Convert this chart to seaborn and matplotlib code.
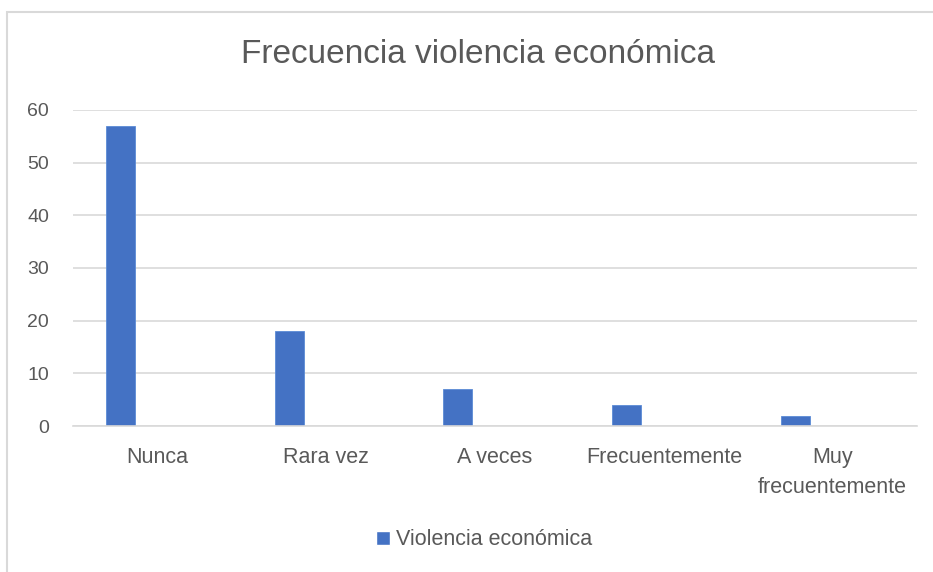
import numpy as np
import pandas as pd
import seaborn as sns
import matplotlib.pyplot as plt
from matplotlib.patches import Rectangle, Patch

# values
categorias = ['Nunca', 'Rara vez', 'A veces', 'Frecuentemente', 'Muy\nfrecuentemente']
frecuencia = [57, 18, 7, 4, 2]
serie = 'Violencia económica'
titulo = 'Frecuencia violencia económica'
yticks = [0, 10, 20, 30, 40, 50, 60]

df = pd.DataFrame({'categoria': categorias, 'valor': frecuencia})

sns.set_style('white')
plt.rcParams['font.family'] = ['Liberation Sans', 'DejaVu Sans']

azul = '#4472C4'
gris = '#D9D9D9'
texto = '#595959'

fig = plt.figure(figsize=(9.33, 5.72), dpi=100)
ax = fig.add_axes([0.078, 0.255, 0.905, 0.553])

ax.set_axisbelow(True)
ax.yaxis.grid(True, color=gris, linewidth=1.2)

sns.barplot(data=df, x='categoria', y='valor', color=azul, width=0.172,
            saturation=1, ax=ax)

# Excel leaves room for a second (empty) series, so bars sit left of the centre
for p in ax.patches:
    p.set_x(p.get_x() - 0.219)
    p.set_edgecolor('#5B8BD6')
    p.set_linewidth(0.6)

ax.set_ylim(0, 60)
ax.set_xlim(-0.5, len(categorias) - 0.5)
ax.set_yticks(yticks)
ax.set_xlabel('')
ax.set_ylabel('')
ax.tick_params(axis='both', length=0, colors=texto)
ax.tick_params(axis='y', labelsize=14, pad=17)
ax.tick_params(axis='x', labelsize=15.5, pad=15)
for lbl in ax.get_xticklabels():
    lbl.set_linespacing(1.55)

for s in ['top', 'right', 'left']:
    ax.spines[s].set_visible(False)
ax.spines['bottom'].set_color(gris)
ax.spines['bottom'].set_linewidth(1.2)

fig.text(0.512, 0.904, titulo, ha='center', va='center', fontsize=24, color=texto)

ax.legend(handles=[Patch(facecolor=azul, label=serie)],
          loc='center', bbox_to_anchor=(0.519, 0.056), bbox_transform=fig.transFigure,
          frameon=False, fontsize=15.5, handlelength=0.65, handleheight=0.65,
          handletextpad=0.3, labelcolor=texto)

# outer chart border
fig.patches.append(Rectangle((7 / 933, -0.05), 1.2, 1 - 12 / 572 + 0.05,
                             transform=fig.transFigure, fill=False,
                             edgecolor=gris, linewidth=1.5))

fig.savefig('out.png', dpi=100)
